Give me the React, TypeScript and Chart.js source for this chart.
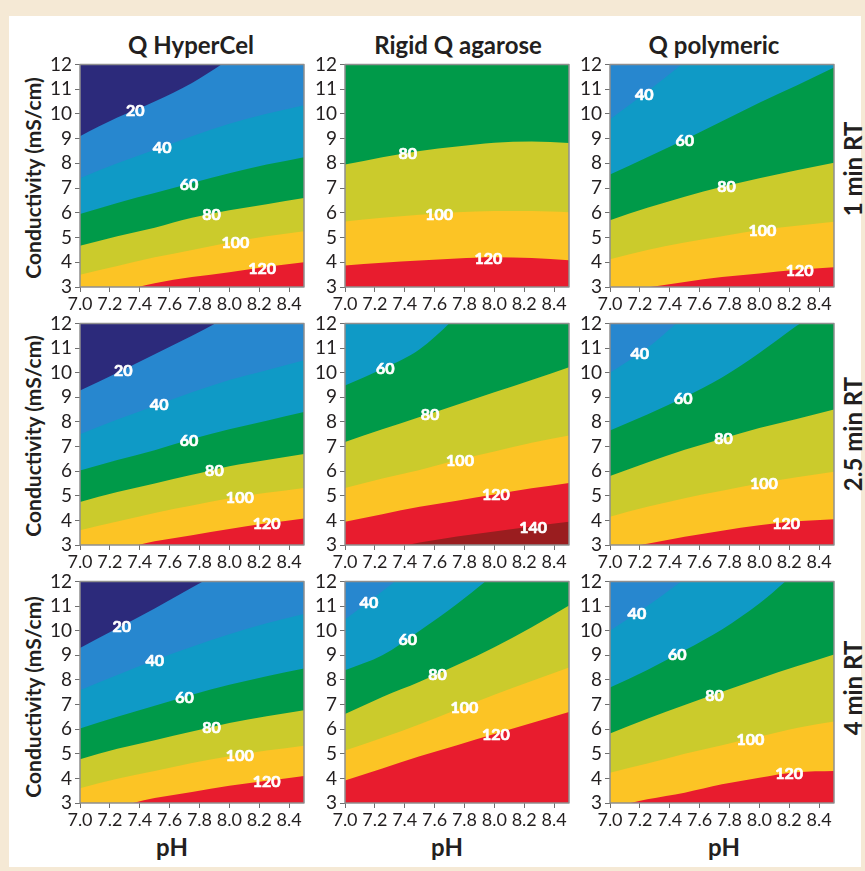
import React, { useEffect, useRef } from "react";
import { Chart, registerables } from "chart.js";

Chart.register(...registerables);
Chart.defaults.font.family = "Lato, 'Noto Sans', sans-serif";

// ---------- data ----------
const PH_GRID = [7.0, 7.25, 7.5, 7.75, 8.0, 8.25, 8.5];
const X_TICKS = [7.0, 7.2, 7.4, 7.6, 7.8, 8.0, 8.2, 8.4];
const Y_TICKS = [3, 4, 5, 6, 7, 8, 9, 10, 11, 12];
const COLUMN_TITLES = ["Q HyperCel", "Rigid Q agarose", "Q polymeric"];
const ROW_TITLES = ["1 min RT", "2.5 min RT", "4 min RT"];
const Y_TITLE = "Conductivity (mS/cm)";
const X_TITLE = "pH";

// colour of the band [20k, 20k+20]
const BAND_COLORS = ["#2c2a7b", "#2787cf", "#0f9ac6", "#009a49", "#cbcb2c", "#fcc425", "#e81c2e", "#9a1d1f"];

// Q HyperCel, 1 min RT: conductivity of each contour at PH_GRID
const HC1_LEVELS = [20, 40, 60, 80, 100, 120];
const HC1_CURVES = [
  [9.1, 9.85, 10.5, 11.25, 12.2, 13.1, 14.0],
  [7.4, 8.0, 8.55, 9.1, 9.6, 10.0, 10.35],
  [5.95, 6.4, 6.8, 7.2, 7.6, 7.95, 8.25],
  [4.67, 5.05, 5.4, 5.8, 6.1, 6.35, 6.6],
  [3.5, 3.85, 4.2, 4.5, 4.8, 5.05, 5.25],
  [2.5, 2.8, 3.15, 3.4, 3.6, 3.82, 4.0],
];
const HC1_LABEL_PH = [7.37, 7.55, 7.73, 7.88, 8.04, 8.22];

// Rigid Q agarose, 1 min RT
const RQ1_LEVELS = [80, 100, 120];
const RQ1_CURVES = [
  [7.95, 8.25, 8.5, 8.68, 8.83, 8.88, 8.82],
  [5.65, 5.8, 5.92, 6.02, 6.07, 6.07, 6.02],
  [3.87, 3.98, 4.07, 4.15, 4.2, 4.17, 4.08],
];
const RQ1_LABEL_PH = [7.42, 7.63, 7.96];

// Q polymeric, 1 min RT
const QP1_LEVELS = [40, 60, 80, 100, 120];
const QP1_CURVES = [
  [9.78, 10.9, 12.1, 13.3, 14.5, 15.7, 16.9],
  [7.55, 8.25, 8.95, 9.7, 10.45, 11.15, 11.87],
  [5.7, 6.2, 6.65, 7.05, 7.4, 7.72, 8.02],
  [4.12, 4.5, 4.8, 5.05, 5.3, 5.48, 5.64],
  [2.75, 2.98, 3.2, 3.4, 3.55, 3.7, 3.8],
];
const QP1_LABEL_PH = [7.23, 7.5, 7.78, 8.02, 8.27];

// Q HyperCel, 2.5 min RT
const HC2_LEVELS = [20, 40, 60, 80, 100, 120];
const HC2_CURVES = [
  [9.27, 10.0, 10.75, 11.5, 12.3, 13.1, 13.9],
  [7.5, 8.1, 8.65, 9.2, 9.7, 10.1, 10.5],
  [6.03, 6.45, 6.85, 7.3, 7.7, 8.05, 8.4],
  [4.75, 5.15, 5.5, 5.85, 6.2, 6.45, 6.7],
  [3.6, 3.95, 4.3, 4.6, 4.9, 5.12, 5.32],
  [2.5, 2.8, 3.15, 3.4, 3.65, 3.88, 4.08],
];
const HC2_LABEL_PH = [7.29, 7.53, 7.73, 7.9, 8.07, 8.25];

// Rigid Q agarose, 2.5 min RT
const RQ2_LEVELS = [60, 80, 100, 120, 140];
const RQ2_CURVES = [
  [9.48, 10.15, 10.95, 12.3, 13.8, 15.3, 16.8],
  [7.18, 7.7, 8.2, 8.7, 9.2, 9.7, 10.22],
  [5.32, 5.7, 6.05, 6.45, 6.8, 7.15, 7.45],
  [3.94, 4.25, 4.55, 4.8, 5.05, 5.3, 5.52],
  [2.6, 2.8, 3.1, 3.35, 3.55, 3.75, 3.94],
];
const RQ2_LABEL_PH = [7.27, 7.57, 7.77, 8.01, 8.26];

// Q polymeric, 2.5 min RT
const QP2_LEVELS = [40, 60, 80, 100, 120];
const QP2_CURVES = [
  [10.0, 11.0, 12.3, 13.6, 14.9, 16.2, 17.5],
  [7.65, 8.3, 9.0, 9.8, 10.8, 11.9, 13.0],
  [5.8, 6.35, 6.87, 7.32, 7.75, 8.12, 8.5],
  [4.15, 4.55, 4.9, 5.2, 5.5, 5.75, 5.97],
  [2.8, 3.05, 3.33, 3.58, 3.8, 3.96, 4.05],
];
const QP2_LABEL_PH = [7.2, 7.49, 7.76, 8.03, 8.18];

// Q HyperCel, 4 min RT
const HC3_LEVELS = [20, 40, 60, 80, 100, 120];
const HC3_CURVES = [
  [9.3, 10.1, 10.9, 11.75, 12.6, 13.5, 14.4],
  [7.58, 8.2, 8.8, 9.35, 9.85, 10.3, 10.68],
  [6.03, 6.5, 6.95, 7.4, 7.8, 8.15, 8.46],
  [4.78, 5.2, 5.55, 5.9, 6.25, 6.52, 6.77],
  [3.6, 3.98, 4.3, 4.62, 4.9, 5.13, 5.33],
  [2.55, 2.85, 3.2, 3.45, 3.7, 3.9, 4.1],
];
const HC3_LABEL_PH = [7.28, 7.5, 7.7, 7.88, 8.07, 8.25];

// Rigid Q agarose, 4 min RT
const RQ3_LEVELS = [40, 60, 80, 100, 120];
const RQ3_CURVES = [
  [10.45, 11.6, 12.8, 14.0, 15.2, 16.4, 17.6],
  [8.39, 9.0, 10.0, 11.08, 12.3, 13.6, 14.9],
  [6.61, 7.3, 7.92, 8.6, 9.33, 10.14, 11.02],
  [5.13, 5.65, 6.2, 6.8, 7.4, 7.95, 8.5],
  [3.91, 4.4, 4.9, 5.35, 5.8, 6.25, 6.7],
];
const RQ3_LABEL_PH = [7.16, 7.42, 7.62, 7.8, 8.01];

// Q polymeric, 4 min RT
const QP3_LEVELS = [40, 60, 80, 100, 120];
const QP3_CURVES = [
  [10.0, 11.0, 12.1, 13.2, 14.3, 15.4, 16.5],
  [7.69, 8.4, 9.2, 10.05, 11.1, 12.4, 13.7],
  [5.82, 6.42, 6.98, 7.52, 8.05, 8.55, 9.03],
  [4.23, 4.6, 5.0, 5.35, 5.7, 6.05, 6.31],
  [2.8, 3.15, 3.42, 3.76, 4.03, 4.25, 4.3],
];
const QP3_LABEL_PH = [7.18, 7.45, 7.7, 7.94, 8.2];

type PanelSpec = { levels: number[]; curves: number[][]; labelPh: number[] };

const PANELS: PanelSpec[][] = [
  [
    { levels: HC1_LEVELS, curves: HC1_CURVES, labelPh: HC1_LABEL_PH },
    { levels: RQ1_LEVELS, curves: RQ1_CURVES, labelPh: RQ1_LABEL_PH },
    { levels: QP1_LEVELS, curves: QP1_CURVES, labelPh: QP1_LABEL_PH },
  ],
  [
    { levels: HC2_LEVELS, curves: HC2_CURVES, labelPh: HC2_LABEL_PH },
    { levels: RQ2_LEVELS, curves: RQ2_CURVES, labelPh: RQ2_LABEL_PH },
    { levels: QP2_LEVELS, curves: QP2_CURVES, labelPh: QP2_LABEL_PH },
  ],
  [
    { levels: HC3_LEVELS, curves: HC3_CURVES, labelPh: HC3_LABEL_PH },
    { levels: RQ3_LEVELS, curves: RQ3_CURVES, labelPh: RQ3_LABEL_PH },
    { levels: QP3_LEVELS, curves: QP3_CURVES, labelPh: QP3_LABEL_PH },
  ],
];

// ---------- layout ----------
const COL_LEFT = [80, 345, 610];
const ROW_TOP = [64, 323, 581];
const PLOT_W = 224;
const PLOT_H = [223, 222, 222];
const YW = 44;
const PT = 14;
const PR = 12;
const XH = 34;
const TEXT = "#231f20";

function interp(xs: number[], ys: number[], x: number) {
  for (let i = 0; i < xs.length - 1; i++) {
    if (x >= xs[i] && x <= xs[i + 1]) {
      const t = (x - xs[i]) / (xs[i + 1] - xs[i]);
      return ys[i] + t * (ys[i + 1] - ys[i]);
    }
  }
  return ys[ys.length - 1];
}

function ContourPanel({ spec, left, top, h }: { spec: PanelSpec; left: number; top: number; h: number }) {
  const ref = useRef<HTMLCanvasElement | null>(null);
  const cw = YW + PLOT_W + PR;
  const ch = PT + h + XH;

  useEffect(() => {
    const canvas = ref.current;
    if (!canvas) return;
    const { levels, curves, labelPh } = spec;
    const datasets = levels
      .map((lv, i) => ({
        label: String(lv),
        data: PH_GRID.map((x, j) => ({ x, y: curves[i][j] })),
        fill: "start",
        backgroundColor: BAND_COLORS[lv / 20],
        borderColor: "rgba(0,0,0,0)",
        borderWidth: 0,
        pointRadius: 0,
        pointHoverRadius: 0,
        cubicInterpolationMode: "monotone",
      }))
      .reverse();

    const bgPlugin = {
      id: "bandBackground",
      beforeDatasetsDraw(chart: any) {
        const { ctx, chartArea } = chart;
        ctx.save();
        ctx.fillStyle = BAND_COLORS[levels[0] / 20 - 1];
        ctx.fillRect(chartArea.left, chartArea.top, chartArea.right - chartArea.left, chartArea.bottom - chartArea.top);
        ctx.restore();
      },
    };

    const labelPlugin = {
      id: "contourLabels",
      afterDatasetsDraw(chart: any) {
        const { ctx, chartArea, scales } = chart;
        ctx.save();
        ctx.font = "bold 16px Lato, sans-serif";
        ctx.fillStyle = "#ffffff";
        ctx.strokeStyle = "#ffffff";
        ctx.lineWidth = 0.7;
        ctx.lineJoin = "round";
        ctx.textAlign = "center";
        ctx.textBaseline = "middle";
        levels.forEach((lv, i) => {
          const ph = labelPh[i];
          const c = interp(PH_GRID, curves[i], ph);
          const px = scales.x.getPixelForValue(ph);
          const py = scales.y.getPixelForValue(c) + 1;
          ctx.strokeText(String(lv), px, py);
          ctx.fillText(String(lv), px, py);
        });
        ctx.strokeStyle = "#8f8f8f";
        ctx.lineWidth = 1.5;
        ctx.strokeRect(chartArea.left, chartArea.top, chartArea.right - chartArea.left, chartArea.bottom - chartArea.top);
        ctx.restore();
      },
    };

    const chart = new Chart(canvas, {
      type: "line",
      data: { datasets: datasets as any },
      options: {
        animation: false,
        responsive: false,
        maintainAspectRatio: false,
        devicePixelRatio: 1,
        events: [],
        layout: { padding: { top: PT, right: PR, left: 0, bottom: 0 } },
        plugins: {
          legend: { display: false },
          tooltip: { enabled: false },
          title: { display: false },
        },
        scales: {
          x: {
            type: "linear",
            min: 7.0,
            max: 8.5,
            afterBuildTicks: (scale: any) => {
              scale.ticks = X_TICKS.map((v) => ({ value: v }));
            },
            afterFit: (scale: any) => {
              scale.height = XH;
            },
            ticks: {
              autoSkip: false,
              maxRotation: 0,
              minRotation: 0,
              padding: 1,
              color: TEXT,
              font: { size: 18 },
              callback: (v: any) => Number(v).toFixed(1),
            },
            grid: { display: true, drawOnChartArea: false, drawTicks: true, tickLength: 5, color: "#6f6f6f" },
            border: { display: false },
          },
          y: {
            type: "linear",
            min: 3,
            max: 12,
            afterBuildTicks: (scale: any) => {
              scale.ticks = Y_TICKS.map((v) => ({ value: v }));
            },
            afterFit: (scale: any) => {
              scale.width = YW;
            },
            ticks: {
              autoSkip: false,
              padding: 3,
              color: TEXT,
              font: { size: 19 },
              callback: (v: any) => String(v),
            },
            grid: { display: true, drawOnChartArea: false, drawTicks: true, tickLength: 5, color: "#6f6f6f" },
            border: { display: false },
          },
        },
      } as any,
      plugins: [bgPlugin, labelPlugin],
    });
    return () => chart.destroy();
  }, [spec]);

  return (
    <canvas
      ref={ref}
      width={cw}
      height={ch}
      style={{ position: "absolute", left: left - YW, top: top - PT, width: cw, height: ch }}
    />
  );
}

const labelStyle = (x: number, y: number, size: number, rotate = false): React.CSSProperties => ({
  position: "absolute",
  left: x,
  top: y,
  transform: `translate(-50%, -50%)${rotate ? " rotate(-90deg)" : ""}`,
  whiteSpace: "nowrap",
  fontFamily: "Lato, 'Noto Sans', sans-serif",
  fontWeight: 700,
  fontSize: size,
  lineHeight: 1,
  color: TEXT,
});

const COL_TITLE_X = [191, 458, 714];
const ROW_LABEL_Y = [169, 434, 688];
const Y_TITLE_Y = [178, 436, 697];
const X_TITLE_X = [172, 447, 724];

export default function App() {
  return (
    <div style={{ position: "absolute", left: 0, top: 0, width: 865, height: 871, background: "#f5e9d5", overflow: "hidden" }}>
      <div style={{ position: "absolute", left: 9, top: 16, width: 852, height: 851, background: "#ffffff" }} />
      {COLUMN_TITLES.map((t, c) => (
        <div key={"ct" + c} style={labelStyle(COL_TITLE_X[c], 45, 24)}>{t}</div>
      ))}
      {ROW_TITLES.map((t, r) => (
        <div key={"rt" + r} style={labelStyle(853, ROW_LABEL_Y[r], 24, true)}>{t}</div>
      ))}
      {Y_TITLE_Y.map((y, r) => (
        <div key={"yt" + r} style={labelStyle(32, y, 21, true)}>{Y_TITLE}</div>
      ))}
      {X_TITLE_X.map((x, c) => (
        <div key={"xt" + c} style={labelStyle(x, 847, 24)}>{X_TITLE}</div>
      ))}
      {PANELS.map((row, r) =>
        row.map((spec, c) => (
          <ContourPanel key={r + "-" + c} spec={spec} left={COL_LEFT[c]} top={ROW_TOP[r]} h={PLOT_H[r]} />
        ))
      )}
    </div>
  );
}
